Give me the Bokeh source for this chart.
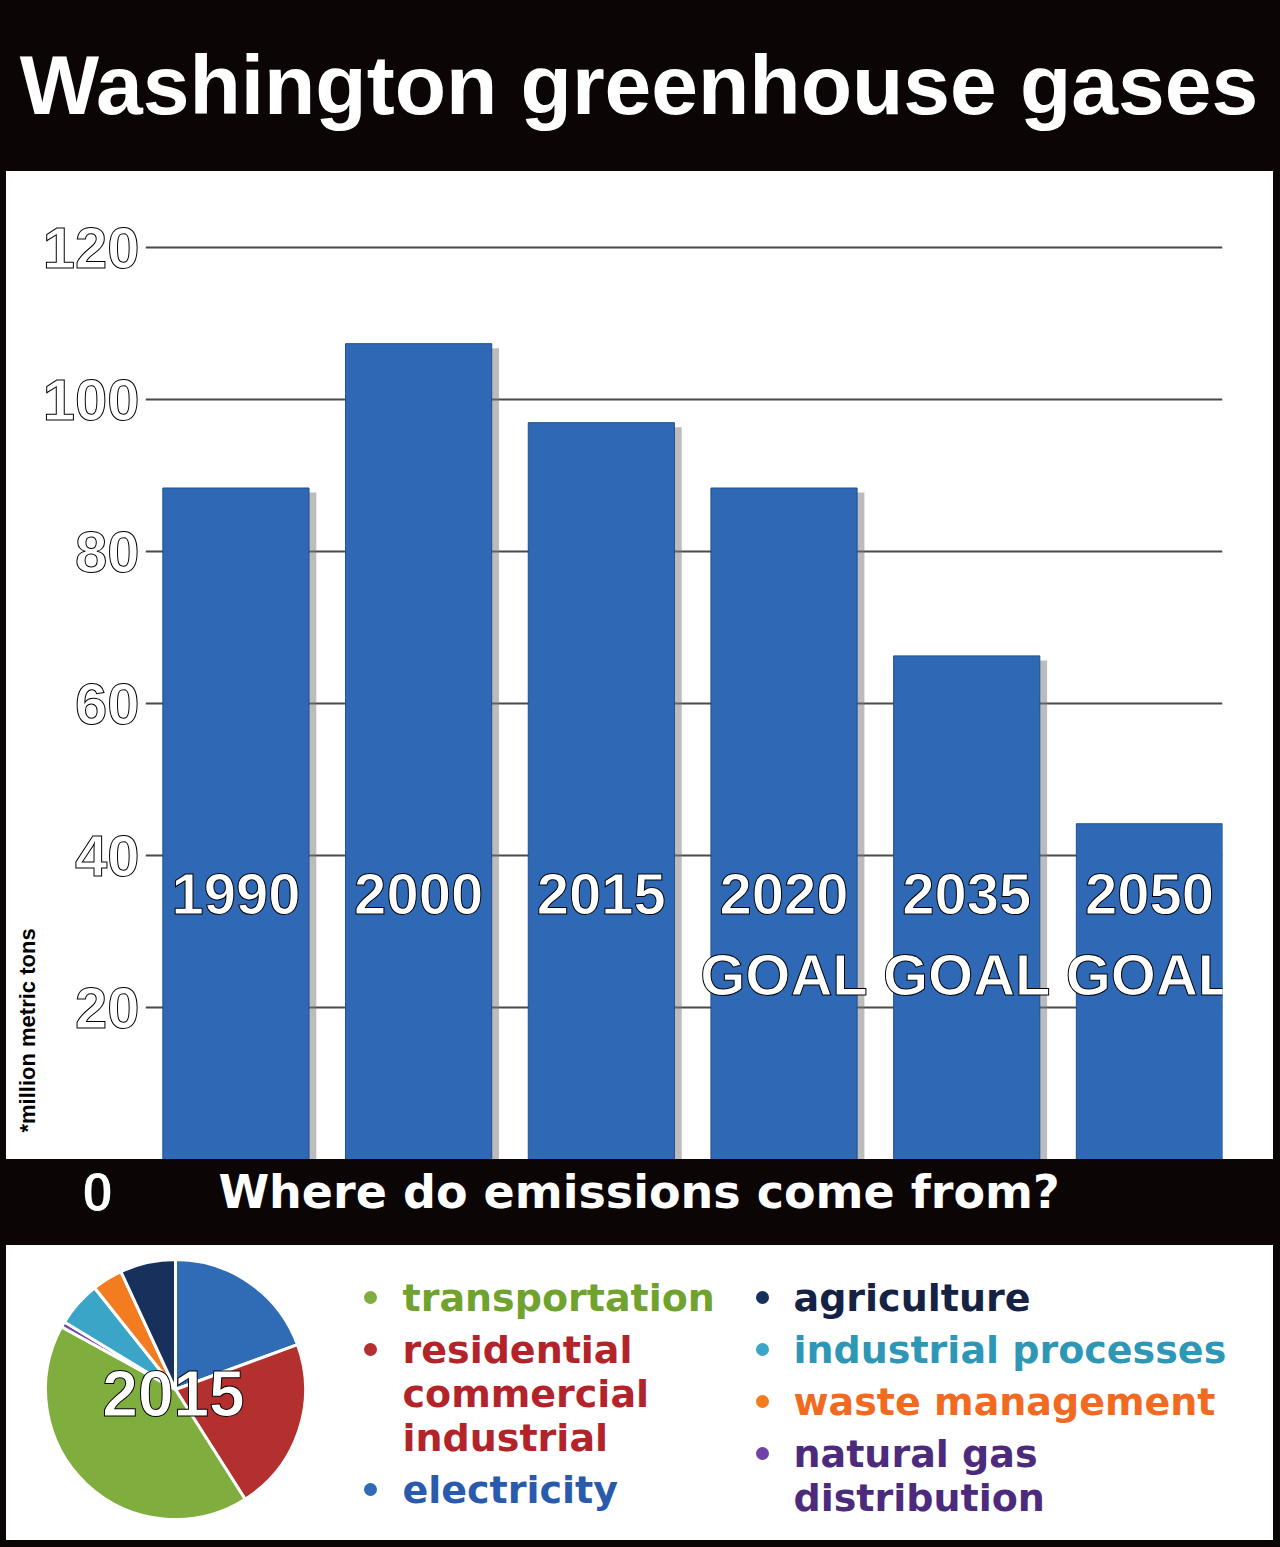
import math
from bokeh.plotting import figure
from bokeh.layouts import column
from bokeh.models import Range1d, FixedTicker, ColumnDataSource, Label
from bokeh.transform import dodge
from bokeh.core.properties import value
from bokeh.embed import file_html
from bokeh.resources import INLINE

# ---------------- data ----------------
TITLE = "Washington greenhouse gases"
SUBTITLE = "Where do emissions come from?"
AXIS_NOTE = "*million metric tons"
BAR_LABELS = ["1990", "2000", "2015", "2020", "2035", "2050"]
BAR_NOTES = ["", "", "", "GOAL", "GOAL", "GOAL"]
BAR_VALUES = [88.4, 107.4, 97.0, 88.4, 66.3, 44.2]
Y_TICKS = [0, 20, 40, 60, 80, 100, 120]

PIE_YEAR = "2015"
SECTORS = ["electricity", "residential commercial industrial", "transportation",
           "natural gas distribution", "industrial processes", "waste management", "agriculture"]
SHARES = [19.4, 21.6, 42.0, 0.7, 5.6, 3.8, 6.9]
SLICE_COLORS = ["#2f6cb5", "#b3302e", "#7fae3e", "#6f42a8", "#3aa5c6", "#f47c20", "#17305c"]

LEGEND_COL1 = ["transportation", "residential\ncommercial\nindustrial", "electricity"]
LEGEND_COL1_COLORS = ["#70a22e", "#b3232a", "#2a5aab"]
LEGEND_COL1_DOTS = ["#7fae3e", "#b3302e", "#2f6cb5"]
LEGEND_COL2 = ["agriculture", "industrial processes", "waste management", "natural gas\ndistribution"]
LEGEND_COL2_COLORS = ["#152244", "#2e97b5", "#f26a1f", "#4c2b7c"]
LEGEND_COL2_DOTS = ["#17305c", "#3aa5c6", "#f47c20", "#6f42a8"]

# ---------------- styles ----------------
W = 1280
INNER_W = 1267
HEAVY = "Liberation Sans"
BAR_COLOR = "#2f68b5"
BLACK = "#0b0506"


def blank(w, h, bg):
    p = figure(width=w, height=h, output_backend="svg", toolbar_location=None,
               x_range=Range1d(0, w), y_range=Range1d(0, h),
               x_axis_location=None, y_axis_location=None,
               min_border=0, min_border_left=0, min_border_right=0,
               min_border_top=0, min_border_bottom=0)
    p.frame_align = False
    p.grid.visible = False
    p.outline_line_color = None
    p.background_fill_color = bg
    p.border_fill_color = bg
    p.styles = {"background-color": bg}
    return p


# ---------------- title band ----------------
pa = blank(W, 171, BLACK)
pa.add_layout(Label(x=638.5, y=87, text=TITLE, text_align="center", text_baseline="alphabetic",
                    text_color="white", text_font=HEAVY, text_font_style="bold",
                    text_font_size="84px"))

# ---------------- bar chart ----------------
xs = list(range(len(BAR_LABELS)))
src = ColumnDataSource(dict(x=xs, value=BAR_VALUES, label=BAR_LABELS, note=BAR_NOTES))

pb = figure(width=INNER_W, height=988, output_backend="svg", toolbar_location=None,
            x_range=Range1d(-0.495, 5.4), y_range=Range1d(0, 126.25),
            x_axis_location=None, title=AXIS_NOTE, title_location="left",
            min_border_left=139, min_border_right=51, min_border_top=29, min_border_bottom=0)
pb.margin = (0, 7, 0, 6)
pb.styles = {"background-color": "white"}
pb.frame_align = False
pb.title.align = "left"
pb.title.offset = 27
pb.title.standoff = 0
pb.title.text_font = HEAVY
pb.title.text_font_style = "bold"
pb.title.text_font_size = "22px"
pb.title.text_color = "black"
pb.outline_line_color = None
pb.background_fill_color = "white"
pb.border_fill_color = "white"
pb.xgrid.visible = False
pb.ygrid.ticker = FixedTicker(ticks=Y_TICKS[1:])
pb.ygrid.grid_line_color = "#4a4a4a"
pb.ygrid.grid_line_width = 2
ax = pb.yaxis[0]
ax.ticker = FixedTicker(ticks=Y_TICKS[1:])
ax.axis_line_color = None
ax.major_tick_line_color = None
ax.minor_tick_line_color = None
ax.major_label_standoff = 0
ax.major_label_text_font = HEAVY
ax.major_label_text_font_style = "bold"
ax.major_label_text_font_size = "58px"
ax.major_label_text_color = "white"
ax.major_label_text_outline_color = "black"

pb.vbar(x=dodge("x", 0.04), top=dodge("value", -0.6), width=0.8, source=src,
        fill_color="#7a7a7a", fill_alpha=0.5, line_color=None)
pb.vbar(x="x", top="value", width=0.8, source=src, fill_color=BAR_COLOR,
        line_color="#1f4d91", line_width=1)
pb.text(x="x", y=34.9, text="label", source=src, text_align="center", text_baseline="alphabetic",
        text_font=value(HEAVY), text_font_style="bold", text_font_size="58px",
        text_color="white", text_outline_color="black")
pb.text(x="x", y=24.4, text="note", source=src, text_align="center", text_baseline="alphabetic",
        text_font=value(HEAVY), text_font_style="bold", text_font_size="58px",
        text_color="white", text_outline_color="black")

# ---------------- subtitle band ----------------
pc = blank(W, 86, BLACK)
pc.add_layout(Label(x=638.5, y=53.5, text=SUBTITLE, text_align="center", text_baseline="alphabetic",
                    text_color="white", text_font="DejaVu Sans", text_font_style="bold",
                    text_font_size="46px"))
pc.add_layout(Label(x=97, y=54, text=str(Y_TICKS[0]), text_align="center", text_baseline="alphabetic",
                    text_color="white", text_outline_color="black", text_font=HEAVY,
                    text_font_style="bold", text_font_size="56px"))

# ---------------- pie + legend ----------------
HD = 295
pd_ = blank(INNER_W, HD, "white")
pd_.margin = (0, 7, 7, 6)
cx, cy, r = 169, 151, 130
total = sum(SHARES)
starts, ends = [], []
acc = 0.0
for s in SHARES:
    starts.append(math.pi / 2 - 2 * math.pi * acc / total)
    acc += s
    ends.append(math.pi / 2 - 2 * math.pi * acc / total)
psrc = ColumnDataSource(dict(start=starts, end=ends, color=SLICE_COLORS, sector=SECTORS))
pd_.wedge(x=cx, y=cy, radius=r, start_angle="start", end_angle="end", direction="clock",
          fill_color="color", line_color="white", line_width=3, source=psrc)
pd_.text(x=[cx - 2], y=[cy - 3.5], text=[PIE_YEAR], text_align="center", text_baseline="alphabetic",
         text_font=value(HEAVY), text_font_style="bold", text_font_size="64px",
         text_color="white", text_outline_color="black")


def legend_col(items, colors, dots, dot_x, text_x):
    y = HD - (1297 - 1245)
    ys_dot, ys_txt = [], []
    line_px, gap = 44, 52
    for it in items:
        n = it.count("\n") + 1
        ys_dot.append(y)
        ys_txt.append(y - (n - 1) * line_px / 2)
        y -= (n - 1) * line_px + gap
    pd_.scatter(x=[dot_x] * len(items), y=ys_dot, size=13, marker="circle",
                fill_color=dots, line_color=None)
    pd_.text(x=[text_x] * len(items), y=ys_txt, text=items, text_color=colors,
             text_align="left", text_baseline="middle", text_font=value("DejaVu Sans"),
             text_font_style="bold", text_font_size="38px", text_line_height=1.0)


legend_col(LEGEND_COL1, LEGEND_COL1_COLORS, LEGEND_COL1_DOTS, 364, 396)
legend_col(LEGEND_COL2, LEGEND_COL2_COLORS, LEGEND_COL2_DOTS, 756, 787)

layout = column(pa, pb, pc, pd_, spacing=0, styles={"background-color": BLACK})
open("out.html", "w").write(file_html(layout, INLINE))
